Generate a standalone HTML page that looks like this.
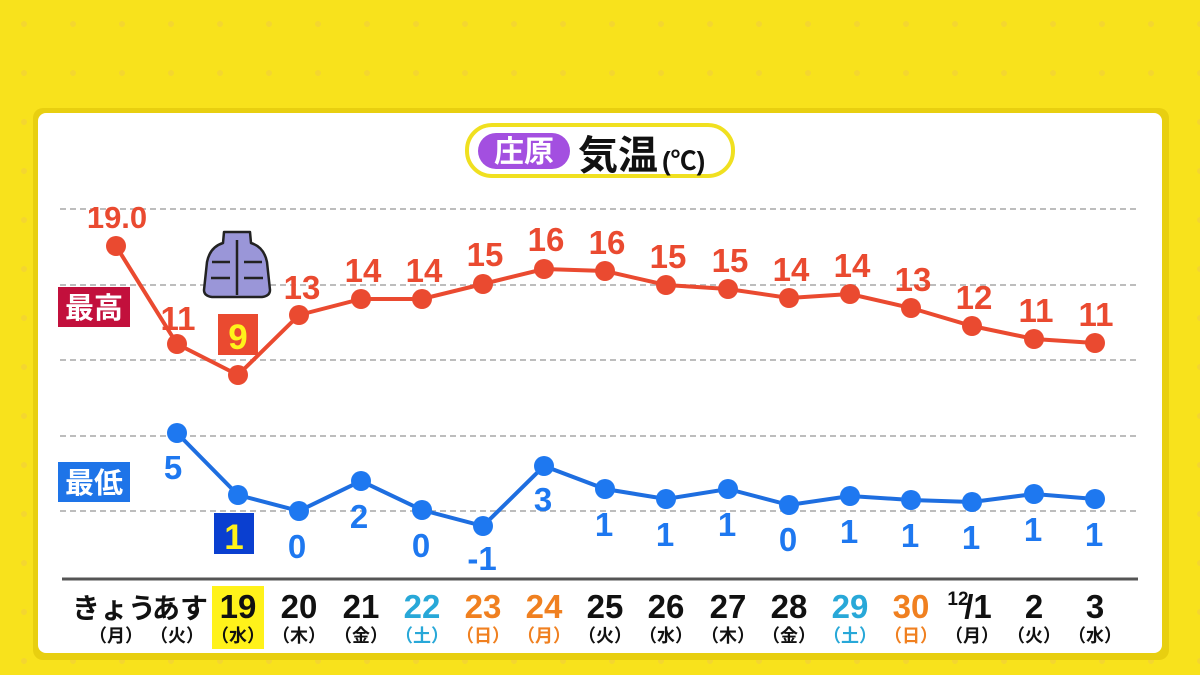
<!DOCTYPE html>
<html><head><meta charset="utf-8"><style>
html,body{margin:0;padding:0;width:1200px;height:675px;overflow:hidden;background:#f8e21c}
svg{display:block}
text{font-family:"Liberation Sans","Noto Sans CJK JP",sans-serif;font-weight:bold}
</style></head><body>
<svg width="1200" height="675" viewBox="0 0 1200 675" xmlns="http://www.w3.org/2000/svg">
<defs>
<pattern id="dots" width="49" height="49" patternUnits="userSpaceOnUse">
<rect width="49" height="49" fill="#f8e21c"/>
<circle cx="24" cy="24" r="3" fill="#f4d630"/>
</pattern>
</defs>
<rect width="1200" height="675" fill="url(#dots)"/>
<rect x="33" y="108" width="1136" height="552" rx="10" fill="#e8cf10"/>
<rect x="38" y="113" width="1124" height="540" rx="8" fill="#fff"/>

<!-- title -->
<rect x="467" y="125" width="266" height="51" rx="25" fill="#fff" stroke="#f0e020" stroke-width="4"/>
<rect x="478" y="133" width="92" height="36" rx="18" fill="#a34fe0"/>
<text x="524" y="162" font-size="30" fill="#fff" text-anchor="middle">庄原</text>
<text x="578" y="169" font-size="40" fill="#111">気温</text>
<text x="662" y="170" font-size="26" fill="#111">(℃)</text>

<!-- grid -->
<g stroke="#bdbdbd" stroke-width="2" stroke-dasharray="6,4">
<line x1="60" y1="209" x2="1140" y2="209"/>
<line x1="60" y1="285" x2="1140" y2="285"/>
<line x1="60" y1="360" x2="1140" y2="360"/>
<line x1="60" y1="436" x2="1140" y2="436"/>
<line x1="60" y1="511" x2="1140" y2="511"/>
</g>
<line x1="62" y1="579" x2="1138" y2="579" stroke="#555" stroke-width="3"/>

<!-- labels -->
<rect x="58" y="287" width="72" height="40" fill="#c2103c"/>
<text x="94" y="318" font-size="29" fill="#fff" text-anchor="middle">最高</text>
<rect x="58" y="462" width="72" height="40" fill="#1e74e8"/>
<text x="94" y="493" font-size="29" fill="#fff" text-anchor="middle">最低</text>

<!-- jacket -->
<g stroke="#222" stroke-width="2.5" stroke-linejoin="round">
<path d="M224 232 L250 232 L251 243 Q264 247 267 262 L270 290 Q270 296 262 297 L212 297 Q204 296 204 290 L207 262 Q210 247 223 243 Z" fill="#9a96d8"/>
<path d="M237 240 L237 295 M212 262 L230 262 M244 262 L262 262 M211 278 L230 278 M244 278 L263 278" fill="none"/>
</g>

<!-- high line -->
<polyline fill="none" stroke="#ea4a30" stroke-width="4" points="116,246 177,344 238,375 299,315 361,299 422,299 483,284 544,269 605,271 666,285 728,289 789,298 850,294 911,308 972,326 1034,339 1095,343"/>
<g fill="#ea4a30">
<circle cx="116" cy="246" r="10"/><circle cx="177" cy="344" r="10"/><circle cx="238" cy="375" r="10"/><circle cx="299" cy="315" r="10"/><circle cx="361" cy="299" r="10"/><circle cx="422" cy="299" r="10"/><circle cx="483" cy="284" r="10"/><circle cx="544" cy="269" r="10"/><circle cx="605" cy="271" r="10"/><circle cx="666" cy="285" r="10"/><circle cx="728" cy="289" r="10"/><circle cx="789" cy="298" r="10"/><circle cx="850" cy="294" r="10"/><circle cx="911" cy="308" r="10"/><circle cx="972" cy="326" r="10"/><circle cx="1034" cy="339" r="10"/><circle cx="1095" cy="343" r="10"/>
</g>
<g fill="#ea4a30" font-size="33" text-anchor="middle">
<text x="117" y="228" font-size="31">19.0</text>
<text x="178" y="330">11</text>
<text x="302" y="299">13</text>
<text x="363" y="282">14</text>
<text x="424" y="282">14</text>
<text x="485" y="266">15</text>
<text x="546" y="251">16</text>
<text x="607" y="254">16</text>
<text x="668" y="268">15</text>
<text x="730" y="272">15</text>
<text x="791" y="281">14</text>
<text x="852" y="277">14</text>
<text x="913" y="291">13</text>
<text x="974" y="309">12</text>
<text x="1036" y="322">11</text>
<text x="1096" y="326">11</text>
</g>
<rect x="218" y="314" width="40" height="41" fill="#ea4a30"/>
<text x="238" y="349" font-size="35" fill="#fff21a" text-anchor="middle">9</text>

<!-- low line -->
<polyline fill="none" stroke="#1e6ee0" stroke-width="4" points="177,433 238,495 299,511 361,481 422,510 483,526 544,466 605,489 666,499 728,489 789,505 850,496 911,500 972,502 1034,494 1095,499"/>
<g fill="#1e78f0">
<circle cx="177" cy="433" r="10"/><circle cx="238" cy="495" r="10"/><circle cx="299" cy="511" r="10"/><circle cx="361" cy="481" r="10"/><circle cx="422" cy="510" r="10"/><circle cx="483" cy="526" r="10"/><circle cx="544" cy="466" r="10"/><circle cx="605" cy="489" r="10"/><circle cx="666" cy="499" r="10"/><circle cx="728" cy="489" r="10"/><circle cx="789" cy="505" r="10"/><circle cx="850" cy="496" r="10"/><circle cx="911" cy="500" r="10"/><circle cx="972" cy="502" r="10"/><circle cx="1034" cy="494" r="10"/><circle cx="1095" cy="499" r="10"/>
</g>
<g fill="#1e78f0" font-size="33" text-anchor="middle">
<text x="173" y="479">5</text>
<text x="297" y="558">0</text>
<text x="359" y="528">2</text>
<text x="421" y="557">0</text>
<text x="482" y="570">-1</text>
<text x="543" y="511">3</text>
<text x="604" y="536">1</text>
<text x="665" y="546">1</text>
<text x="727" y="536">1</text>
<text x="788" y="551">0</text>
<text x="849" y="543">1</text>
<text x="910" y="547">1</text>
<text x="971" y="549">1</text>
<text x="1033" y="541">1</text>
<text x="1094" y="546">1</text>
</g>
<rect x="214" y="513" width="40" height="41" fill="#0a3fd0"/>
<text x="234" y="549" font-size="35" fill="#fff21a" text-anchor="middle">1</text>

<!-- x axis -->
<rect x="212" y="586" width="52" height="63" fill="#fff21a"/>
<g font-size="33" text-anchor="middle" fill="#111">
<text x="114" y="618" font-size="28">きょう</text>
<text x="180" y="618" font-size="28">あす</text>
<text x="238" y="618">19</text>
<text x="299" y="618">20</text>
<text x="361" y="618">21</text>
<text x="422" y="618" fill="#28a8d8">22</text>
<text x="483" y="618" fill="#f08020">23</text>
<text x="544" y="618" fill="#f08020">24</text>
<text x="605" y="618">25</text>
<text x="666" y="618">26</text>
<text x="728" y="618">27</text>
<text x="789" y="618">28</text>
<text x="850" y="618" fill="#28a8d8">29</text>
<text x="911" y="618" fill="#f08020">30</text>
<text x="958" y="605" font-size="19">12</text><text x="978" y="618">/1</text>
<text x="1034" y="618">2</text>
<text x="1095" y="618">3</text>
</g>
<g font-size="18" text-anchor="middle" fill="#111">
<text x="116" y="642">（月）</text>
<text x="177" y="642">（火）</text>
<text x="238" y="642">（水）</text>
<text x="299" y="642">（木）</text>
<text x="361" y="642">（金）</text>
<text x="422" y="642" fill="#28a8d8">（土）</text>
<text x="483" y="642" fill="#f08020">（日）</text>
<text x="544" y="642" fill="#f08020">（月）</text>
<text x="605" y="642">（火）</text>
<text x="666" y="642">（水）</text>
<text x="728" y="642">（木）</text>
<text x="789" y="642">（金）</text>
<text x="850" y="642" fill="#28a8d8">（土）</text>
<text x="911" y="642" fill="#f08020">（日）</text>
<text x="972" y="642">（月）</text>
<text x="1034" y="642">（火）</text>
<text x="1095" y="642">（水）</text>
</g>
</svg>
</body></html>
